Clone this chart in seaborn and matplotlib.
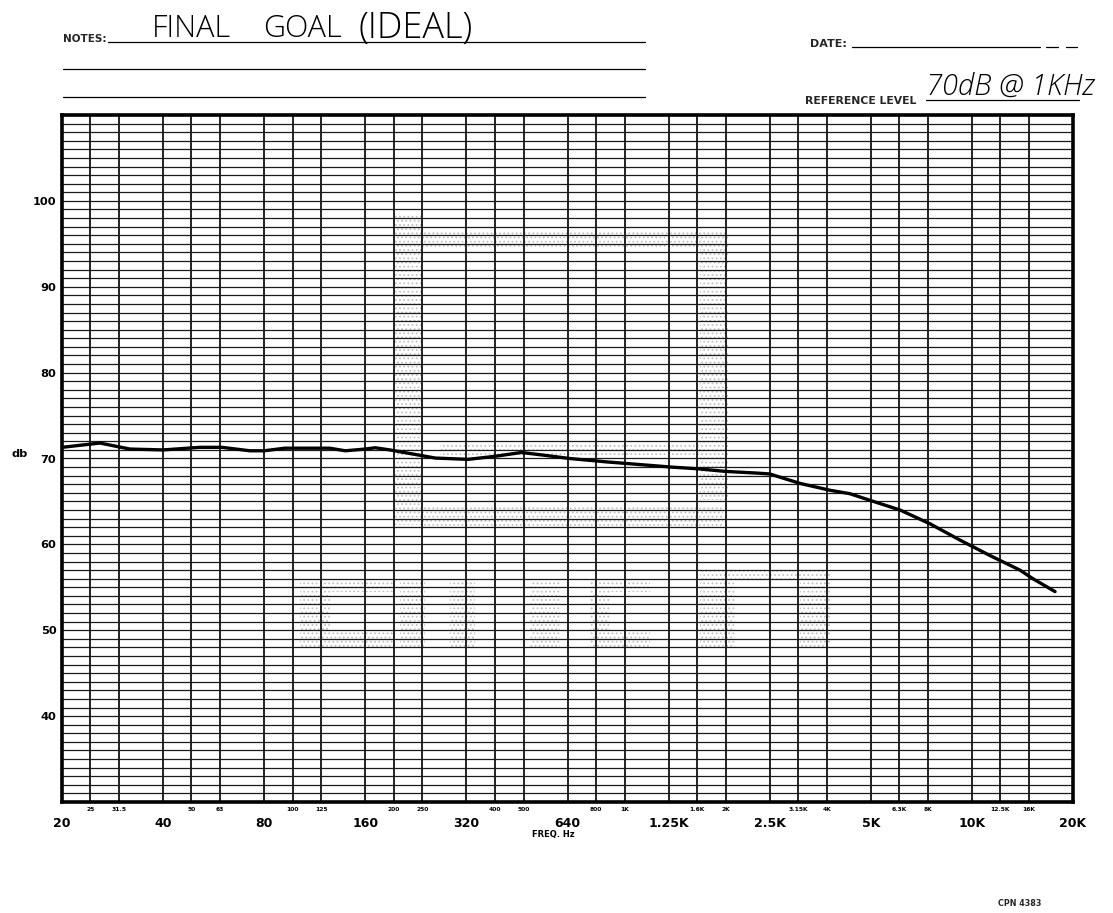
import numpy as np
import matplotlib
matplotlib.use("Agg")
import matplotlib.pyplot as plt
from matplotlib.ticker import MultipleLocator
from matplotlib.lines import Line2D
from matplotlib.patches import Rectangle
import seaborn as sns
import pandas as pd

# ---------------- data ----------------
freq_hz = [20, 27, 33.4, 40, 53.5, 63.6, 74, 80, 94, 102, 131, 143, 160, 173, 194,
           269, 324, 400, 492, 557, 651, 873, 1020, 1281, 1614, 1990, 2344, 2500,
           3203, 4066, 4497, 5000, 6350, 8082, 9414, 11533, 14810, 16320, 18260]
level_db = [71.3, 71.8, 71.1, 71.0, 71.3, 71.3, 70.9, 70.9, 71.2, 71.2, 71.2, 70.9,
            71.1, 71.25, 71.0, 70.05, 69.9, 70.25, 70.7, 70.4, 70.0, 69.6, 69.4, 69.0,
            68.8, 68.5, 68.3, 68.2, 67.1, 66.3, 65.9, 65.1, 64.0, 62.4, 60.5, 58.7,
            57.0, 56.0, 54.5]

octave_freqs = [20, 40, 80, 160, 320, 640, 1250, 2500, 5000, 10000, 20000]
octave_labels = ["20", "40", "80", "160", "320", "640", "1.25K", "2.5K", "5K", "10K", "20K"]
third_freqs = [25, 31.5, 50, 63, 100, 125, 200, 250, 400, 500, 800, 1000, 1600, 2000,
               3150, 4000, 6300, 8000, 12500, 16000]
third_labels = ["25", "31.5", "50", "63", "100", "125", "200", "250", "400", "500",
                "800", "1K", "1.6K", "2K", "3.15K", "4K", "6.3K", "8K", "12.5K", "16K"]
db_ticks = [40, 50, 60, 70, 80, 90, 100]

# ---------------- chart-paper frequency scale ----------------
# the printed paper places the two intermediate lines of each octave at these fractions
sub_frac = [0.0, 0.28, 0.565]
knots = np.array(sorted(octave_freqs + third_freqs), dtype=float)
knot_pos = np.array([i // 3 + sub_frac[i % 3] for i in range(len(knots))])
log_knots = np.log(knots)
LN2 = np.log(2.0)


def fwd(f):
    f = np.asarray(f, dtype=float)
    lf = np.log(np.clip(f, 1e-12, None))
    p = np.interp(lf, log_knots, knot_pos)
    p = np.where(lf < log_knots[0], (lf - log_knots[0]) / LN2 + knot_pos[0], p)
    p = np.where(lf > log_knots[-1], (lf - log_knots[-1]) / LN2 + knot_pos[-1], p)
    return p


def inv(p):
    p = np.asarray(p, dtype=float)
    lf = np.interp(p, knot_pos, log_knots)
    lf = np.where(p < knot_pos[0], (p - knot_pos[0]) * LN2 + log_knots[0], lf)
    lf = np.where(p > knot_pos[-1], (p - knot_pos[-1]) * LN2 + log_knots[-1], lf)
    return np.exp(lf)


# ---------------- figure ----------------
sns.set_theme(style="white")
plt.rcParams['font.family'] = ['DejaVu Sans']
plt.rcParams['hatch.linewidth'] = 0.8

W, H = 1113, 913
fig = plt.figure(figsize=(W / 100, H / 100), dpi=100)
fig.patch.set_facecolor("white")


def fx(x):
    return x / W


def fy(y):
    return 1 - y / H


left, right, top, bottom = 62, 1073, 115, 802

# faint stippled watermark printed on the paper (decoration, figure pixels)
stipple = [(393, 215, 423, 525), (423, 232, 728, 248), (700, 248, 728, 500),
           (423, 505, 723, 527), (440, 444, 700, 455),
           (300, 580, 330, 648), (330, 580, 395, 592), (330, 632, 395, 648),
           (400, 580, 425, 648), (450, 580, 475, 648), (530, 580, 560, 648),
           (590, 580, 650, 592), (590, 632, 650, 648), (590, 592, 610, 632),
           (700, 568, 735, 648), (800, 568, 830, 648), (735, 568, 800, 582)]
for (x0, y0, x1, y1) in stipple:
    fig.add_artist(Rectangle((fx(x0), fy(y1)), fx(x1) - fx(x0), fy(y0) - fy(y1),
                             transform=fig.transFigure, facecolor="none",
                             edgecolor="#c2c2c2", linewidth=0, hatch="....", zorder=0))

ax = fig.add_axes([left / W, 1 - bottom / H, (right - left) / W, (bottom - top) / H])
ax.patch.set_alpha(0)

df = pd.DataFrame({"freq": freq_hz, "db": level_db})
sns.lineplot(data=df, x="freq", y="db", ax=ax, color="black", linewidth=2.4,
             estimator=None, sort=True, zorder=5)

ax.set_xscale("function", functions=(fwd, inv))
ax.set_xlim(20, 20000)
ax.set_ylim(30, 110)

ax.set_xticks(octave_freqs)
ax.set_xticklabels(octave_labels, fontsize=9, fontweight="bold", color="black")
ax.set_xticks(third_freqs, minor=True)
ax.set_xticklabels(third_labels, minor=True, fontsize=4.3, fontweight="bold", color="black")
ax.tick_params(axis="x", which="major", length=0, pad=11)
ax.tick_params(axis="x", which="minor", length=0, pad=3.5)

ax.set_yticks(db_ticks)
ax.set_yticklabels([str(v) for v in db_ticks], fontsize=8.2, fontweight="bold", color="black")
ax.yaxis.set_minor_locator(MultipleLocator(1))
ax.tick_params(axis="y", which="both", length=0, pad=4)

ax.grid(True, which="both", axis="y", color="#1a1a1a", linewidth=0.9)
ax.grid(True, which="both", axis="x", color="#111111", linewidth=1.3)
ax.set_axisbelow(True)

for s in ax.spines.values():
    s.set_visible(True)
    s.set_color("black")
    s.set_linewidth(2.6)

ax.set_ylabel("db", rotation=0, fontsize=8.2, fontweight="bold", color="black")
ax.yaxis.set_label_coords((20 - left) / (right - left), 0.5)
ax.set_xlabel("FREQ. Hz", fontsize=6, fontweight="bold", color="black")
ax.xaxis.set_label_coords((553 - left) / (right - left), -(830 - bottom) / (bottom - top))
ax.xaxis.label.set_va("top")


# ---------------- form header ----------------
def hline(x0, x1, y, lw=0.9):
    fig.add_artist(Line2D([fx(x0), fx(x1)], [fy(y), fy(y)], transform=fig.transFigure,
                          color="black", linewidth=lw))


fig.text(fx(63), fy(42), "NOTES:", fontsize=7.5, fontweight="bold", ha="left", va="baseline")
hline(108, 645, 42)
hline(63, 645, 69)
hline(63, 645, 97)
hand = dict(family="Open Sans", fontweight="light", color="black", ha="left", va="baseline")
fig.text(fx(152), fy(37), "FINAL", fontsize=22, **hand)
fig.text(fx(263), fy(37), "GOAL", fontsize=22, **hand)
fig.text(fx(358), fy(38), "(IDEAL)", fontsize=26, **hand)

fig.text(fx(810), fy(47), "DATE:", fontsize=8, fontweight="bold", ha="left", va="baseline")
hline(852, 1040, 47)
hline(1046, 1058, 47)
hline(1066, 1077, 47)

fig.text(fx(805), fy(104), "REFERENCE LEVEL", fontsize=7.8, fontweight="bold", ha="left",
         va="baseline")
hline(926, 1079, 100)
fig.text(fx(926), fy(95), "70dB @ 1KHz", fontsize=21, family="Open Sans",
         fontweight="light", fontstyle="italic", ha="left", va="baseline", color="black")

fig.text(fx(1020), fy(903), "CPN 4383", fontsize=5.8, fontweight="bold", ha="center",
         va="center")

fig.savefig("out.png", dpi=100, facecolor="white")
